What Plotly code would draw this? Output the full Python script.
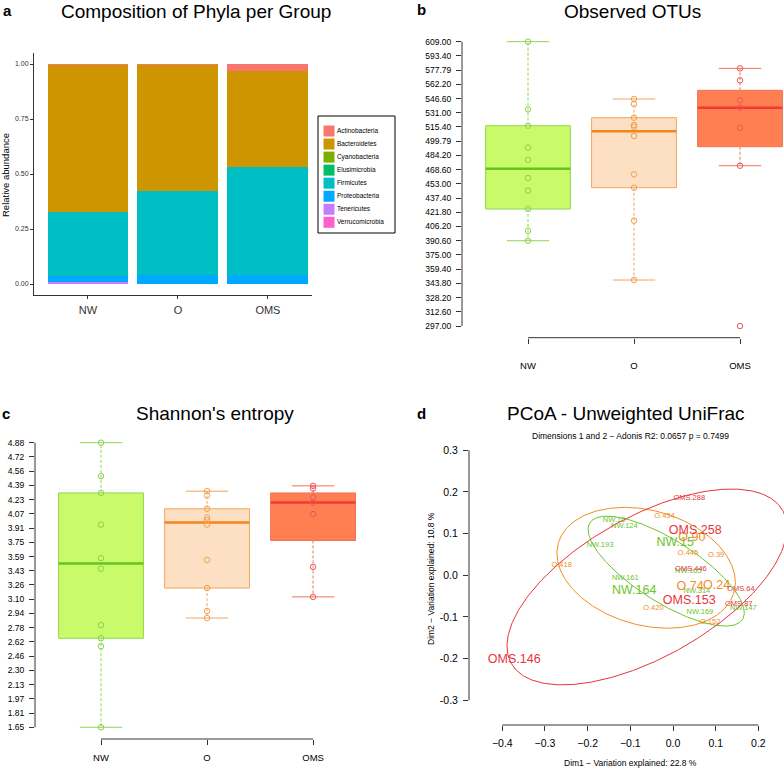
import numpy as np
import plotly.graph_objects as go

W, H = 784, 769
FONT = "Liberation Sans, Arial, sans-serif"

# ---------------- data ----------------
groups = ["NW", "O", "OMS"]
phyla = ["Actinobacteria", "Bacteroidetes", "Cyanobacteria", "Elusimicrobia",
         "Firmicutes", "Proteobacteria", "Tenericutes", "Verrucomicrobia"]
abund_nw = [0.003, 0.670, 0.000, 0.000, 0.292, 0.025, 0.008, 0.002]
abund_o = [0.003, 0.574, 0.000, 0.000, 0.383, 0.038, 0.001, 0.001]
abund_oms = [0.030, 0.437, 0.000, 0.000, 0.493, 0.038, 0.001, 0.001]

otu_nw = [609.0, 534.7, 516.8, 492.7, 479.5, 459.4, 445.5, 425.4, 401.6, 390.6]
otu_o = [546.1, 540.6, 525.6, 517.5, 515.7, 505.5, 463.4, 448.8, 412.6, 347.5]
otu_oms = [579.7, 566.6, 544.6, 536.6, 514.6, 472.9, 297.0]
otu_ticks = ["297.00", "312.60", "328.20", "343.80", "359.40", "375.00", "390.60",
             "406.20", "421.80", "437.40", "453.00", "468.60", "484.20", "499.79",
             "515.40", "531.00", "546.60", "562.20", "577.79", "593.40", "609.00"]

shan_nw = [4.88, 4.50, 4.31, 3.95, 3.57, 3.45, 2.81, 2.66, 2.57, 1.65]
shan_o = [4.33, 4.28, 4.13, 4.03, 4.00, 3.95, 3.55, 3.23, 2.97, 2.89]
shan_oms = [4.39, 4.36, 4.26, 4.20, 4.07, 3.47, 3.13]
shan_ticks = ["1.65", "1.81", "1.97", "2.13", "2.30", "2.46", "2.62", "2.78", "2.94",
              "3.10", "3.26", "3.43", "3.59", "3.75", "3.91", "4.07", "4.23", "4.39",
              "4.56", "4.72", "4.88"]

pcoa_names = ["NW.10", "NW.124", "NW.15", "NW.193", "NW.165", "NW.161", "NW.164",
              "NW.314", "NW.147", "NW.169",
              "O.434", "O.90", "O.445", "O.39", "O.418", "O.74", "O.24", "O.420", "O.152",
              "OMS.288", "OMS.258", "OMS.446", "OMS.153", "OMS.64", "OMS.87", "OMS.146"]
pcoa_group = ["NW"] * 10 + ["O"] * 9 + ["OMS"] * 7
pcoa_dim1 = [-0.138, -0.114, 0.005, -0.171, 0.036, -0.112, -0.091, 0.056, 0.165, 0.063,
             -0.020, 0.044, 0.035, 0.101, -0.261, 0.040, 0.102, -0.046, 0.087,
             0.038, 0.052, 0.042, 0.038, 0.159, 0.154, -0.372]
pcoa_dim2 = [0.133, 0.118, 0.077, 0.072, 0.010, -0.007, -0.037, -0.039, -0.079, -0.089,
             0.143, 0.089, 0.054, 0.049, 0.025, -0.027, -0.025, -0.079, -0.113,
             0.185, 0.106, 0.015, -0.062, -0.034, -0.068, -0.204]
large_labels = ["NW.15", "NW.164", "O.90", "O.74", "O.24", "OMS.258", "OMS.153", "OMS.146"]
# ellipse: centre dim1, centre dim2, half width, half height, correlation
ell_nw = [-0.016, 0.010, 0.183, 0.132, -0.756]
ell_o = [-0.063, 0.018, 0.209, 0.145, -0.241]
ell_oms = [-0.061, -0.028, 0.328, 0.235, 0.604]

# ---------------- styles ----------------
phyla_colors = ["#F8766D", "#CD9600", "#7CAE00", "#00BE67", "#00BFC4", "#00A9FF", "#C77CFF", "#FF61CC"]
box_style = {
    "NW": dict(fill="#C8FA6A", border="#8FD84C", median="#66C41A", point="#8CD14E"),
    "O": dict(fill="#FDE0C3", border="#F2A65C", median="#F0861E", point="#F2A04C"),
    "OMS": dict(fill="#FF7F52", border="#F0735A", median="#F23A2E", point="#EE5656"),
}
pc_color = {"NW": "#6CC52D", "O": "#F28C22", "OMS": "#E8343B"}
AX = "#333333"


def px_x(p):
    return p / W


def px_y(p):
    return 1 - p / H


def fivenum(v):
    x = np.sort(np.asarray(v, dtype=float))
    n = len(x)
    n4 = np.floor((n + 3) / 2) / 2
    d = np.array([1, n4, (n + 1) / 2, n + 1 - n4, n])
    return 0.5 * (x[np.floor(d).astype(int) - 1] + x[np.ceil(d).astype(int) - 1])


def boxstats(v):
    f = fivenum(v)
    iqr = f[3] - f[1]
    arr = np.asarray(v)
    lo = arr[arr >= f[1] - 1.5 * iqr].min()
    hi = arr[arr <= f[3] + 1.5 * iqr].max()
    return f[1], f[2], f[3], lo, hi


fig = go.Figure()

# ---------------- panel a ----------------
for k in reversed(range(len(phyla))):
    fig.add_trace(go.Bar(x=groups, y=[abund_nw[k], abund_o[k], abund_oms[k]],
                         marker=dict(color=phyla_colors[k], line=dict(width=0)),
                         width=0.9, xaxis="x", yaxis="y", showlegend=False,
                         name=phyla[k]))

fig.add_trace(go.Scatter(x=[0] * len(phyla), y=list(range(len(phyla))), mode="markers+text",
                         marker=dict(symbol="square", size=11, color=phyla_colors, line=dict(width=0)),
                         text=phyla, textposition="middle right",
                         textfont=dict(size=6.5, color="black"),
                         xaxis="x5", yaxis="y5", showlegend=False, cliponaxis=False,
                         hoverinfo="skip"))


# ---------------- box panels ----------------
def add_box(values, pos, st, xa, ya):
    q1, med, q3, lo, hi = boxstats(values)
    hw, cw = 0.4, 0.2
    fig.add_trace(go.Scatter(x=[pos, pos, None, pos, pos], y=[q3, hi, None, q1, lo], mode="lines",
                             line=dict(color=st["border"], width=1, dash="3px,2px"),
                             xaxis=xa, yaxis=ya, showlegend=False, hoverinfo="skip"))
    fig.add_trace(go.Scatter(x=[pos - cw, pos + cw, None, pos - cw, pos + cw],
                             y=[hi, hi, None, lo, lo], mode="lines",
                             line=dict(color=st["border"], width=1),
                             xaxis=xa, yaxis=ya, showlegend=False, hoverinfo="skip"))
    fig.add_trace(go.Scatter(x=[pos - hw, pos + hw, pos + hw, pos - hw, pos - hw],
                             y=[q1, q1, q3, q3, q1], mode="lines", fill="toself",
                             fillcolor=st["fill"], line=dict(color=st["border"], width=1),
                             xaxis=xa, yaxis=ya, showlegend=False, hoverinfo="skip"))
    fig.add_trace(go.Scatter(x=[pos - hw, pos + hw], y=[med, med], mode="lines",
                             line=dict(color=st["median"], width=2.5),
                             xaxis=xa, yaxis=ya, showlegend=False, hoverinfo="skip"))
    fig.add_trace(go.Scatter(x=[pos] * len(values), y=values, mode="markers",
                             marker=dict(symbol="circle-open", size=5.5, color=st["point"],
                                         line=dict(width=1, color=st["point"])),
                             xaxis=xa, yaxis=ya, showlegend=False, cliponaxis=False))


for i, (g, vals) in enumerate(zip(groups, [otu_nw, otu_o, otu_oms])):
    add_box(vals, i + 1, box_style[g], "x2", "y2")
for i, (g, vals) in enumerate(zip(groups, [shan_nw, shan_o, shan_oms])):
    add_box(vals, i + 1, box_style[g], "x3", "y3")

# ---------------- panel d ----------------
t = np.linspace(0, 2 * np.pi, 361)
for g in groups:
    idx = [j for j, gg in enumerate(pcoa_group) if gg == g]
    fig.add_trace(go.Scatter(x=[pcoa_dim1[j] for j in idx], y=[pcoa_dim2[j] for j in idx],
                             mode="text", text=[pcoa_names[j] for j in idx],
                             textposition="middle center",
                             textfont=dict(color=pc_color[g],
                                           size=[12.5 if pcoa_names[j] in large_labels else 7.5 for j in idx]),
                             xaxis="x4", yaxis="y4", showlegend=False, cliponaxis=False))
for g, e in zip(groups, [ell_nw, ell_o, ell_oms]):
    cx, cy, sx, sy, rho = e
    ex = cx + sx * np.cos(t)
    ey = cy + sy * (rho * np.cos(t) + np.sqrt(1 - rho ** 2) * np.sin(t))
    fig.add_trace(go.Scatter(x=ex, y=ey, mode="lines", line=dict(color=pc_color[g], width=1),
                             xaxis="x4", yaxis="y4", showlegend=False, hoverinfo="skip"))

# ---------------- layout ----------------
common = dict(showgrid=False, zeroline=False, ticks="outside", tickcolor=AX,
              tickfont=dict(color="black"), linecolor=AX)

otu_vals = list(np.linspace(min(otu_nw + otu_o + otu_oms), max(otu_nw + otu_o + otu_oms), 21))
shan_vals = list(np.linspace(min(shan_nw + shan_o + shan_oms), max(shan_nw + shan_o + shan_oms), 21))

fig.update_layout(
    width=W, height=H, margin=dict(l=0, r=0, t=0, b=0),
    paper_bgcolor="white", plot_bgcolor="white",
    font=dict(family=FONT, color="black"),
    barmode="stack", showlegend=False,
    xaxis=dict(common, anchor="y", domain=[px_x(34), px_x(312)], range=[-0.6, 2.49], type="category",
               showline=True, ticklen=3, tickfont=dict(size=11, color="#333333"),
               ticklabelstandoff=2),
    yaxis=dict(common, anchor="x", domain=[px_y(295), px_y(53)], range=[-0.05, 1.05],
               tickvals=[0, 0.25, 0.5, 0.75, 1.0], ticktext=["0.00", "0.25", "0.50", "0.75", "1.00"],
               showline=True, ticklen=3, tickfont=dict(size=7, color="#333333")),
    xaxis2=dict(common, anchor="y2", domain=[px_x(462), 1.0], range=[0.3774, 3.415],
                tickvals=[1, 2, 3], ticktext=groups, ticklen=5, tickfont=dict(size=9.5),
                ticklabelstandoff=14, showline=False),
    yaxis2=dict(common, anchor="x2", domain=[px_y(337.7), px_y(30)], range=[284.2, 621.8],
                tickvals=otu_vals, ticktext=otu_ticks, ticklen=5, tickfont=dict(size=8.5),
                ticklabelstandoff=3, showline=False),
    xaxis3=dict(common, anchor="y3", domain=[px_x(35), px_x(400)], range=[0.3774, 3.82],
                tickvals=[1, 2, 3], ticktext=groups, ticklen=5, tickfont=dict(size=9.5),
                ticklabelstandoff=5, showline=False),
    yaxis3=dict(common, anchor="x3", domain=[px_y(739), px_y(430)], range=[1.517, 5.024],
                tickvals=shan_vals, ticktext=shan_ticks, ticklen=5, tickfont=dict(size=8.5),
                ticklabelstandoff=3, showline=False),
    xaxis4=dict(common, anchor="y4", domain=[px_x(469), 1.0], range=[-0.478, 0.260],
                tickvals=[-0.4, -0.3, -0.2, -0.1, 0.0, 0.1, 0.2],
                ticktext=["\u22120.4", "\u22120.3", "\u22120.2", "\u22120.1", "0.0", "0.1", "0.2"],
                ticklen=5, tickfont=dict(size=10.5), ticklabelstandoff=3, showline=False),
    yaxis4=dict(common, anchor="x4", domain=[px_y(725), px_y(440)], range=[-0.3593, 0.3247],
                tickvals=[-0.3, -0.2, -0.1, 0.0, 0.1, 0.2, 0.3],
                ticktext=["-0.3", "-0.2", "-0.1", "0.0", "0.1", "0.2", "0.3"],
                ticklen=5, tickfont=dict(size=10.5), ticklabelstandoff=3, showline=False),
    xaxis5=dict(anchor="y5", domain=[px_x(318), px_x(395)], range=[-0.143, 0.857], visible=False),
    yaxis5=dict(anchor="x5", domain=[px_y(233), px_y(116)], range=[7.82, -1.15], visible=False),
)

line = dict(color=AX, width=1)
shapes = [
    # base-R style axis lines spanning first to last tick
    dict(type="line", xref="x2", yref="y2 domain", x0=1, x1=3, y0=0, y1=0, line=line),
    dict(type="line", xref="x2 domain", yref="y2", x0=0, x1=0, y0=otu_vals[0], y1=otu_vals[-1], line=line),
    dict(type="line", xref="x3", yref="y3 domain", x0=1, x1=3, y0=0, y1=0, line=line),
    dict(type="line", xref="x3 domain", yref="y3", x0=0, x1=0, y0=shan_vals[0], y1=shan_vals[-1], line=line),
    dict(type="line", xref="x4", yref="y4 domain", x0=-0.4, x1=0.2, y0=0, y1=0, line=line),
    dict(type="line", xref="x4 domain", yref="y4", x0=0, x1=0, y0=-0.3, y1=0.3, line=line),
    # legend frame of panel a
    dict(type="rect", xref="paper", yref="paper", x0=px_x(318), x1=px_x(395),
         y0=px_y(233), y1=px_y(116), line=dict(color="black", width=1)),
]
fig.update_layout(shapes=shapes)


def ann(text, x, y, size, bold=False, angle=0, color="black"):
    return dict(text=f"<b>{text}</b>" if bold else text, x=px_x(x), y=px_y(y),
                xref="paper", yref="paper", showarrow=False, xanchor="center",
                yanchor="middle", textangle=angle, font=dict(size=size, color=color, family=FONT))


annotations = [
    ann("a", 7, 10, 15, bold=True),
    ann("b", 422, 9, 15, bold=True),
    ann("c", 6, 414, 15, bold=True),
    ann("d", 422, 414, 15, bold=True),
    ann("Composition of Phyla per Group", 196, 12, 19),
    ann("Observed OTUs", 632, 12, 19),
    ann("Shannon's entropy", 215, 413, 19),
    ann("PCoA - Unweighted UniFrac", 626, 413, 19),
    ann("Dimensions 1 and 2 \u2212 Adonis R2: 0.0657 p = 0.7499", 630, 436, 8.5),
    ann("Relative abundance", 5, 175, 9.5, angle=-90),
    ann("Dim2 \u2212 Variation explained: 10.8 %", 431, 579, 8.5, angle=-90),
    ann("Dim1 \u2212 Variation explained: 22.8 %", 630, 763, 8.5),
]
fig.update_layout(annotations=annotations)

# remove the browser's default 8px page margin so the figure sits at the window origin
fig.write_html("out.html", config={"displayModeBar": False},
               post_script="document.body.style.margin='0';")
